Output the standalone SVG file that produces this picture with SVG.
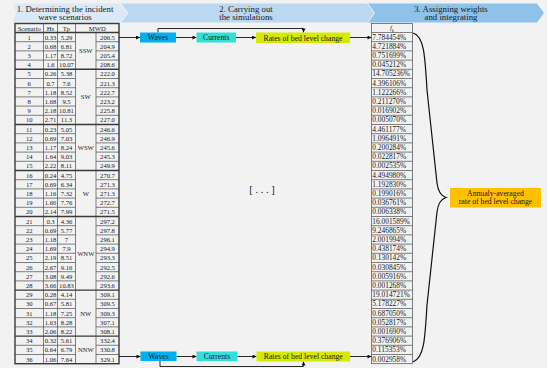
<svg xmlns="http://www.w3.org/2000/svg" width="550" height="371" viewBox="0 0 550 371">
<style>
text{font-family:"Liberation Serif","DejaVu Serif",serif;fill:#1a1a1a}
.hd{font-size:8.8px;text-anchor:middle}
.tc{font-size:6.6px;text-anchor:middle}
.fk{font-size:7.4px;text-anchor:start}
.nd{font-size:7.7px;text-anchor:middle}
.thin{fill:none;stroke:#4d4d4d;stroke-width:0.7}
.thick{fill:none;stroke:#3a3a3a;stroke-width:1.4}
.con{fill:none;stroke:#111;stroke-width:0.9}
</style>
<defs>
<marker id="ah" viewBox="0 0 6 6" refX="6" refY="3" markerWidth="5" markerHeight="4" markerUnits="userSpaceOnUse" orient="auto">
<path d="M0,0 L6,3 L0,6 Z" fill="#111"/>
</marker>
</defs>
<rect x="0" y="0" width="550" height="371" fill="#ffffff"/>
<rect x="0" y="0" width="547" height="368" fill="#f2f2f2"/>

<g id="header">
<path d="M13,3.5 H120 L127.5,13 L120,22.5 H13 L16,13 Z" fill="#dbe9f6"/>
<path d="M121,3.5 H367 L374,13 L367,22.5 H121 L128.5,13 Z" fill="#bcd8f0"/>
<path d="M368,3.5 H537 L544,13 L537,22.5 H368 L375,13 Z" fill="#8ec2e8"/>
<text class="hd" x="65" y="11.5">1. Determining the incident</text>
<text class="hd" x="65" y="20.3">wave scenarios</text>
<text class="hd" x="246" y="11.5">2. Carrying out</text>
<text class="hd" x="246" y="20.3">the simulations</text>
<text class="hd" x="451" y="11.5">3. Assigning weights</text>
<text class="hd" x="451" y="20.3">and integrating</text>
</g>

<g id="scenario-table">
<path class="thin" d="M15,41.7H75.5M96,41.7H119M15,50.9H75.5M96,50.9H119M15,60.1H75.5M96,60.1H119M15,78.5H75.5M96,78.5H119M15,87.7H75.5M96,87.7H119M15,96.9H75.5M96,96.9H119M15,106.1H75.5M96,106.1H119M15,115.3H75.5M96,115.3H119M15,133.7H75.5M96,133.7H119M15,142.9H75.5M96,142.9H119M15,152.1H75.5M96,152.1H119M15,161.3H75.5M96,161.3H119M15,179.7H75.5M96,179.7H119M15,188.9H75.5M96,188.9H119M15,198.1H75.5M96,198.1H119M15,207.3H75.5M96,207.3H119M15,225.7H75.5M96,225.7H119M15,234.9H75.5M96,234.9H119M15,244.1H75.5M96,244.1H119M15,253.3H75.5M96,253.3H119M15,262.5H75.5M96,262.5H119M15,271.7H75.5M96,271.7H119M15,280.9H75.5M96,280.9H119M15,299.3H75.5M96,299.3H119M15,308.5H75.5M96,308.5H119M15,317.7H75.5M96,317.7H119M15,326.9H75.5M96,326.9H119M15,345.3H75.5M96,345.3H119M15,354.5H75.5M96,354.5H119"/>
<path class="thin" d="M43.5,23.5V363.7M57.5,23.5V363.7M75.5,23.5V363.7M96,32.5V363.7"/>
<path class="thick" d="M15,32.5H119M15,69.3H119M15,124.5H119M15,170.5H119M15,216.5H119M15,290.1H119M15,336.1H119"/>
<rect class="thick" x="15" y="23.5" width="104" height="340.2"/>
<text class="tc" x="29.25" y="30.5">Scenario</text>
<text class="tc" x="50.5" y="30.5">Hs</text>
<text class="tc" x="66.5" y="30.5">Tp</text>
<text class="tc" x="97.25" y="30.5">MWD</text>
<g class="tc">
<text class="tc" x="29.25" y="39.5">1</text><text class="tc" x="50.5" y="39.5">0.33</text><text class="tc" x="66.5" y="39.5">5.29</text><text class="tc" x="107.5" y="39.5">206.5</text>
<text class="tc" x="29.25" y="48.7">2</text><text class="tc" x="50.5" y="48.7">0.68</text><text class="tc" x="66.5" y="48.7">6.81</text><text class="tc" x="107.5" y="48.7">204.9</text>
<text class="tc" x="29.25" y="57.9">3</text><text class="tc" x="50.5" y="57.9">1.17</text><text class="tc" x="66.5" y="57.9">8.72</text><text class="tc" x="107.5" y="57.9">205.4</text>
<text class="tc" x="29.25" y="67.1">4</text><text class="tc" x="50.5" y="67.1">1.6</text><text class="tc" x="66.5" y="67.1">10.07</text><text class="tc" x="107.5" y="67.1">208.6</text>
<text class="tc" x="29.25" y="76.3">5</text><text class="tc" x="50.5" y="76.3">0.26</text><text class="tc" x="66.5" y="76.3">5.38</text><text class="tc" x="107.5" y="76.3">222.0</text>
<text class="tc" x="29.25" y="85.5">6</text><text class="tc" x="50.5" y="85.5">0.7</text><text class="tc" x="66.5" y="85.5">7.6</text><text class="tc" x="107.5" y="85.5">221.3</text>
<text class="tc" x="29.25" y="94.7">7</text><text class="tc" x="50.5" y="94.7">1.18</text><text class="tc" x="66.5" y="94.7">8.52</text><text class="tc" x="107.5" y="94.7">222.7</text>
<text class="tc" x="29.25" y="103.9">8</text><text class="tc" x="50.5" y="103.9">1.68</text><text class="tc" x="66.5" y="103.9">9.5</text><text class="tc" x="107.5" y="103.9">223.2</text>
<text class="tc" x="29.25" y="113.1">9</text><text class="tc" x="50.5" y="113.1">2.18</text><text class="tc" x="66.5" y="113.1">10.81</text><text class="tc" x="107.5" y="113.1">225.8</text>
<text class="tc" x="29.25" y="122.3">10</text><text class="tc" x="50.5" y="122.3">2.71</text><text class="tc" x="66.5" y="122.3">11.3</text><text class="tc" x="107.5" y="122.3">227.0</text>
<text class="tc" x="29.25" y="131.5">11</text><text class="tc" x="50.5" y="131.5">0.23</text><text class="tc" x="66.5" y="131.5">5.05</text><text class="tc" x="107.5" y="131.5">246.6</text>
<text class="tc" x="29.25" y="140.7">12</text><text class="tc" x="50.5" y="140.7">0.69</text><text class="tc" x="66.5" y="140.7">7.03</text><text class="tc" x="107.5" y="140.7">246.9</text>
<text class="tc" x="29.25" y="149.9">13</text><text class="tc" x="50.5" y="149.9">1.17</text><text class="tc" x="66.5" y="149.9">8.24</text><text class="tc" x="107.5" y="149.9">245.6</text>
<text class="tc" x="29.25" y="159.1">14</text><text class="tc" x="50.5" y="159.1">1.64</text><text class="tc" x="66.5" y="159.1">9.03</text><text class="tc" x="107.5" y="159.1">245.3</text>
<text class="tc" x="29.25" y="168.3">15</text><text class="tc" x="50.5" y="168.3">2.22</text><text class="tc" x="66.5" y="168.3">8.11</text><text class="tc" x="107.5" y="168.3">249.9</text>
<text class="tc" x="29.25" y="177.5">16</text><text class="tc" x="50.5" y="177.5">0.24</text><text class="tc" x="66.5" y="177.5">4.75</text><text class="tc" x="107.5" y="177.5">270.7</text>
<text class="tc" x="29.25" y="186.7">17</text><text class="tc" x="50.5" y="186.7">0.69</text><text class="tc" x="66.5" y="186.7">6.34</text><text class="tc" x="107.5" y="186.7">271.3</text>
<text class="tc" x="29.25" y="195.9">18</text><text class="tc" x="50.5" y="195.9">1.16</text><text class="tc" x="66.5" y="195.9">7.32</text><text class="tc" x="107.5" y="195.9">271.3</text>
<text class="tc" x="29.25" y="205.1">19</text><text class="tc" x="50.5" y="205.1">1.66</text><text class="tc" x="66.5" y="205.1">7.76</text><text class="tc" x="107.5" y="205.1">272.7</text>
<text class="tc" x="29.25" y="214.3">20</text><text class="tc" x="50.5" y="214.3">2.14</text><text class="tc" x="66.5" y="214.3">7.99</text><text class="tc" x="107.5" y="214.3">271.5</text>
<text class="tc" x="29.25" y="223.5">21</text><text class="tc" x="50.5" y="223.5">0.3</text><text class="tc" x="66.5" y="223.5">4.36</text><text class="tc" x="107.5" y="223.5">297.2</text>
<text class="tc" x="29.25" y="232.7">22</text><text class="tc" x="50.5" y="232.7">0.69</text><text class="tc" x="66.5" y="232.7">5.77</text><text class="tc" x="107.5" y="232.7">297.8</text>
<text class="tc" x="29.25" y="241.9">23</text><text class="tc" x="50.5" y="241.9">1.18</text><text class="tc" x="66.5" y="241.9">7</text><text class="tc" x="107.5" y="241.9">296.1</text>
<text class="tc" x="29.25" y="251.1">24</text><text class="tc" x="50.5" y="251.1">1.69</text><text class="tc" x="66.5" y="251.1">7.9</text><text class="tc" x="107.5" y="251.1">294.9</text>
<text class="tc" x="29.25" y="260.3">25</text><text class="tc" x="50.5" y="260.3">2.19</text><text class="tc" x="66.5" y="260.3">8.51</text><text class="tc" x="107.5" y="260.3">293.3</text>
<text class="tc" x="29.25" y="269.5">26</text><text class="tc" x="50.5" y="269.5">2.67</text><text class="tc" x="66.5" y="269.5">9.16</text><text class="tc" x="107.5" y="269.5">292.5</text>
<text class="tc" x="29.25" y="278.7">27</text><text class="tc" x="50.5" y="278.7">3.08</text><text class="tc" x="66.5" y="278.7">9.49</text><text class="tc" x="107.5" y="278.7">292.6</text>
<text class="tc" x="29.25" y="287.9">28</text><text class="tc" x="50.5" y="287.9">3.66</text><text class="tc" x="66.5" y="287.9">10.83</text><text class="tc" x="107.5" y="287.9">293.6</text>
<text class="tc" x="29.25" y="297.1">29</text><text class="tc" x="50.5" y="297.1">0.28</text><text class="tc" x="66.5" y="297.1">4.14</text><text class="tc" x="107.5" y="297.1">309.1</text>
<text class="tc" x="29.25" y="306.3">30</text><text class="tc" x="50.5" y="306.3">0.67</text><text class="tc" x="66.5" y="306.3">5.81</text><text class="tc" x="107.5" y="306.3">309.5</text>
<text class="tc" x="29.25" y="315.5">31</text><text class="tc" x="50.5" y="315.5">1.18</text><text class="tc" x="66.5" y="315.5">7.25</text><text class="tc" x="107.5" y="315.5">309.3</text>
<text class="tc" x="29.25" y="324.7">32</text><text class="tc" x="50.5" y="324.7">1.63</text><text class="tc" x="66.5" y="324.7">8.28</text><text class="tc" x="107.5" y="324.7">307.1</text>
<text class="tc" x="29.25" y="333.9">33</text><text class="tc" x="50.5" y="333.9">2.06</text><text class="tc" x="66.5" y="333.9">8.22</text><text class="tc" x="107.5" y="333.9">308.1</text>
<text class="tc" x="29.25" y="343.1">34</text><text class="tc" x="50.5" y="343.1">0.32</text><text class="tc" x="66.5" y="343.1">5.61</text><text class="tc" x="107.5" y="343.1">332.4</text>
<text class="tc" x="29.25" y="352.3">35</text><text class="tc" x="50.5" y="352.3">0.64</text><text class="tc" x="66.5" y="352.3">6.79</text><text class="tc" x="107.5" y="352.3">330.8</text>
<text class="tc" x="29.25" y="361.5">36</text><text class="tc" x="50.5" y="361.5">1.06</text><text class="tc" x="66.5" y="361.5">7.64</text><text class="tc" x="107.5" y="361.5">329.1</text>
</g>
<text class="tc" x="85.75" y="53.3">SSW</text>
<text class="tc" x="85.75" y="99.3">SW</text>
<text class="tc" x="85.75" y="149.9">WSW</text>
<text class="tc" x="85.75" y="195.9">W</text>
<text class="tc" x="85.75" y="255.7">WNW</text>
<text class="tc" x="85.75" y="315.5">NW</text>
<text class="tc" x="85.75" y="352.3">NNW</text>
</g>

<g id="fk-table">
<rect class="thin" x="371.5" y="23.5" width="41" height="340.2"/>
<path class="thin" d="M371.5,32.5H412.5M371.5,41.7H412.5M371.5,50.9H412.5M371.5,60.1H412.5M371.5,69.3H412.5M371.5,78.5H412.5M371.5,87.7H412.5M371.5,96.9H412.5M371.5,106.1H412.5M371.5,115.3H412.5M371.5,124.5H412.5M371.5,133.7H412.5M371.5,142.9H412.5M371.5,152.1H412.5M371.5,161.3H412.5M371.5,170.5H412.5M371.5,179.7H412.5M371.5,188.9H412.5M371.5,198.1H412.5M371.5,207.3H412.5M371.5,216.5H412.5M371.5,225.7H412.5M371.5,234.9H412.5M371.5,244.1H412.5M371.5,253.3H412.5M371.5,262.5H412.5M371.5,271.7H412.5M371.5,280.9H412.5M371.5,290.1H412.5M371.5,299.3H412.5M371.5,308.5H412.5M371.5,317.7H412.5M371.5,326.9H412.5M371.5,336.1H412.5M371.5,345.3H412.5M371.5,354.5H412.5"/>
<text class="tc" x="392" y="30.3"><tspan font-style="italic">f</tspan><tspan font-style="italic" font-size="4.8" dy="1.2">k</tspan></text>
<text class="fk" x="372.3" y="39.6">7.784454%</text>
<text class="fk" x="372.3" y="48.8">4.721884%</text>
<text class="fk" x="372.3" y="58">0.751699%</text>
<text class="fk" x="372.3" y="67.2">0.045212%</text>
<text class="fk" x="372.3" y="76.4">14.705236%</text>
<text class="fk" x="372.3" y="85.6">4.396106%</text>
<text class="fk" x="372.3" y="94.8">1.122266%</text>
<text class="fk" x="372.3" y="104">0.211270%</text>
<text class="fk" x="372.3" y="113.2">0.016902%</text>
<text class="fk" x="372.3" y="122.4">0.005070%</text>
<text class="fk" x="372.3" y="131.6">4.461177%</text>
<text class="fk" x="372.3" y="140.8">1.096491%</text>
<text class="fk" x="372.3" y="150">0.200284%</text>
<text class="fk" x="372.3" y="159.2">0.022817%</text>
<text class="fk" x="372.3" y="168.4">0.002535%</text>
<text class="fk" x="372.3" y="177.6">4.494980%</text>
<text class="fk" x="372.3" y="186.8">1.192830%</text>
<text class="fk" x="372.3" y="196">0.199016%</text>
<text class="fk" x="372.3" y="205.2">0.036761%</text>
<text class="fk" x="372.3" y="214.4">0.006338%</text>
<text class="fk" x="372.3" y="223.6">16.001589%</text>
<text class="fk" x="372.3" y="232.8">9.246865%</text>
<text class="fk" x="372.3" y="242">2.001994%</text>
<text class="fk" x="372.3" y="251.2">0.438174%</text>
<text class="fk" x="372.3" y="260.4">0.130142%</text>
<text class="fk" x="372.3" y="269.6">0.030845%</text>
<text class="fk" x="372.3" y="278.8">0.005916%</text>
<text class="fk" x="372.3" y="288">0.001268%</text>
<text class="fk" x="372.3" y="297.2">19.014721%</text>
<text class="fk" x="372.3" y="306.4">5.178227%</text>
<text class="fk" x="372.3" y="315.6">0.687050%</text>
<text class="fk" x="372.3" y="324.8">0.052817%</text>
<text class="fk" x="372.3" y="334">0.001690%</text>
<text class="fk" x="372.3" y="343.2">0.376906%</text>
<text class="fk" x="372.3" y="352.4">0.115353%</text>
<text class="fk" x="372.3" y="361.6">0.002958%</text>
</g>

<g id="connectors">
<path class="con" d="M119,37.5 H140" marker-end="url(#ah)"/>
<path class="con" d="M176,37.5 H196.5" marker-end="url(#ah)"/>
<path class="con" d="M235.5,37.5 H256" marker-end="url(#ah)"/>
<path class="con" d="M158,32.5 V28.5 H303.5 V32.5" marker-end="url(#ah)"/>
<path class="con" d="M350,37.5 H371.5" stroke-width="1.4" marker-end="url(#ah)"/>
<path class="con" d="M119,356.5 H140.5" marker-end="url(#ah)"/>
<path class="con" d="M176.5,356.5 H196.5" marker-end="url(#ah)"/>
<path class="con" d="M237.5,356.5 H256.5" marker-end="url(#ah)"/>
<path class="con" d="M160,361 V366.5 H303.5 V361.5" marker-end="url(#ah)"/>
<path class="con" d="M350,356.5 H371.5" stroke-width="1.4" marker-end="url(#ah)"/>
</g>

<g id="waves-top"><rect x="140" y="32.5" width="36" height="10" fill="#00b0f0"/><text class="nd" x="158" y="40.3">Waves</text></g>
<g id="currents-top"><rect x="196.5" y="32.5" width="39.5" height="10" fill="#33e0d8"/><text class="nd" x="216.25" y="40.3">Currents</text></g>
<g id="rates-top"><rect x="256" y="32.5" width="94" height="10.5" fill="#d6ea00"/><text class="nd" x="303" y="40.6">Rates of bed level change</text></g>
<g id="waves-bottom"><rect x="140.5" y="351.5" width="36" height="9.5" fill="#00b0f0"/><text class="nd" x="158.5" y="359">Waves</text></g>
<g id="currents-bottom"><rect x="196.5" y="351.5" width="41" height="9.5" fill="#33e0d8"/><text class="nd" x="217" y="359">Currents</text></g>
<g id="rates-bottom"><rect x="256.5" y="351.5" width="93.5" height="10" fill="#d6ea00"/><text class="nd" x="303.25" y="359.2">Rates of bed level change</text></g>

<g id="ellipsis"><text x="262" y="192.5" font-size="10.5" text-anchor="middle">[ . . . ]</text></g>

<g id="brace"><path d="M413,33 C424,36 425,55 427,90 L437,183 C438,191 441,196 446,197.5 C441,199 438,204 437,212 L427,305 C425,340 424,358 413,362" fill="none" stroke="#111" stroke-width="1.2"/></g>

<g id="annual">
<rect x="450" y="188" width="91" height="19.5" fill="#ffc000"/>
<text class="nd" x="495.5" y="195.6">Annualy-averaged</text>
<text class="nd" x="495.5" y="204.4">rate of bed level change</text>
</g>
</svg>
